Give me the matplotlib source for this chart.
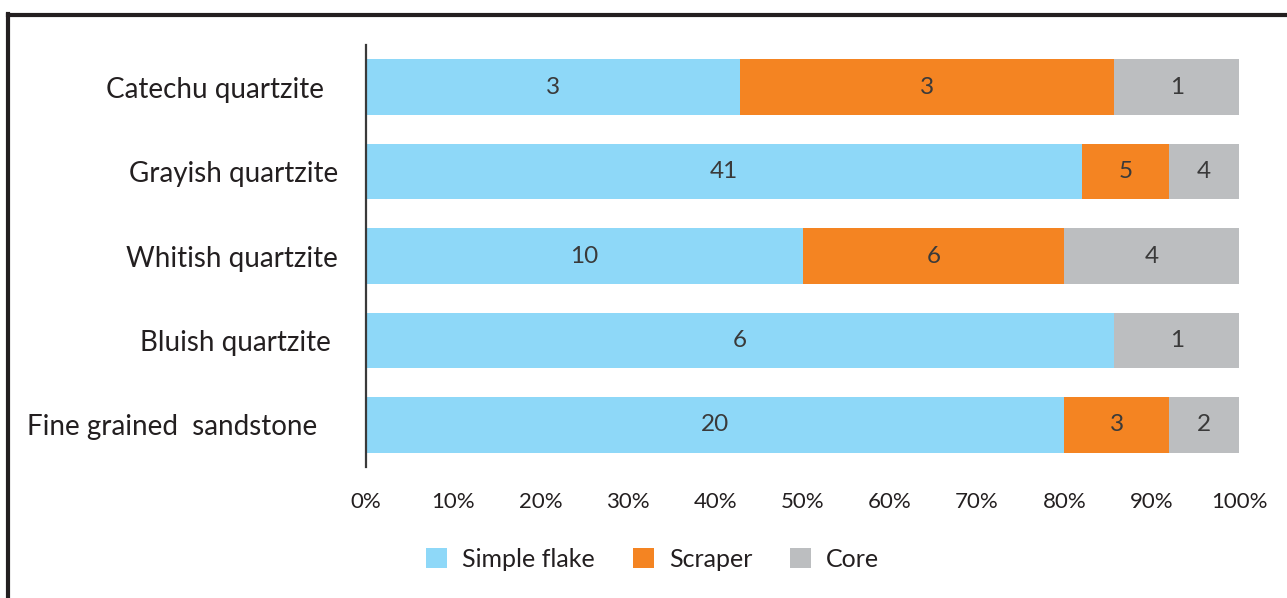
"""Raw material vs. tool type, 100% stacked bars."""

import matplotlib
matplotlib.use("Agg")
import matplotlib.pyplot as plt
from matplotlib.lines import Line2D

materials = [
    "Catechu quartzite  ",
    "Grayish quartzite",
    "Whitish quartzite",
    "Bluish quartzite ",
    "Fine grained  sandstone   ",
]
simple_flake = [3, 41, 10, 6, 20]
scraper = [3, 5, 6, 0, 3]
core = [1, 4, 4, 1, 2]
series_names = ["Simple flake", "Scraper", "Core"]
colors = ["#8ed8f8", "#f48422", "#bcbec0"]
ticks = [0, 10, 20, 30, 40, 50, 60, 70, 80, 90, 100]


def main() -> None:
    plt.rcParams["font.family"] = ["Lato", "DejaVu Sans"]
    text_color = "#231f20"

    fig = plt.figure(figsize=(12.87, 5.98), dpi=100)
    ax = fig.add_axes([0.2844, 0.219, 0.6783, 0.7057])

    series = [simple_flake, scraper, core]
    totals = [sum(v) for v in zip(*series)]
    ypos = list(range(len(materials)))
    left = [0.0] * len(materials)
    for vals, name, col in zip(series, series_names, colors):
        pct = [100 * v / t for v, t in zip(vals, totals)]
        ax.barh(ypos, pct, left=left, height=0.66, color=col, label=name)
        for y, v, p, l in zip(ypos, vals, pct, left):
            if v > 0:
                ax.text(l + p / 2, y, str(v), ha="center", va="center",
                        fontsize=17.5, color="#3a3a3a")
        left = [l + p for l, p in zip(left, pct)]

    ax.set_xlim(0, 100)
    ax.set_ylim(4.5, -0.5)
    ax.set_yticks(ypos)
    ax.set_yticklabels(materials, fontsize=20, color=text_color)
    ax.set_xticks(ticks)
    ax.set_xticklabels([f"{t}%" for t in ticks], fontsize=16, color=text_color)
    ax.tick_params(axis="both", length=0)
    ax.tick_params(axis="x", pad=18)
    ax.tick_params(axis="y", pad=20)
    for side in ("top", "right", "bottom"):
        ax.spines[side].set_visible(False)
    ax.spines["left"].set_color("#3a3a3a")
    ax.spines["left"].set_linewidth(1.6)

    fig.legend(loc="center", bbox_to_anchor=(0.507, 0.065), ncol=3,
               frameon=False, fontsize=18, handlelength=0.85,
               handleheight=0.85, columnspacing=1.5, handletextpad=0.6,
               labelcolor=text_color)

    # frame fragment on top/left edges
    fig.add_artist(Line2D([0.0062, 1.0], [0.9745, 0.9745], transform=fig.transFigure,
                          color=text_color, linewidth=3.0))
    fig.add_artist(Line2D([0.0062, 0.0062], [0.0, 0.9765], transform=fig.transFigure,
                          color=text_color, linewidth=3.0))

    fig.savefig("out.png", dpi=100)


if __name__ == "__main__":
    main()
